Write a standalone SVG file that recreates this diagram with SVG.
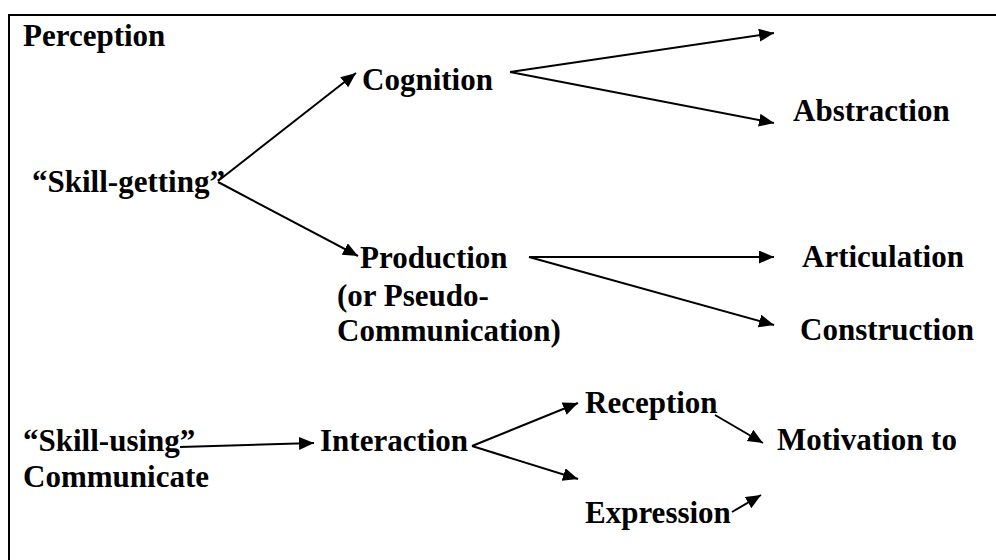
<svg xmlns="http://www.w3.org/2000/svg" width="996" height="560" viewBox="0 0 996 560">
<defs>
<style>
.t{font-weight:bold;font-size:31px;fill:#000}
.c line{stroke:#000;stroke-width:2;fill:none;marker-end:url(#ah)}
</style>
<marker id="ah" markerUnits="userSpaceOnUse" markerWidth="16" markerHeight="14" refX="15" refY="6.5" orient="auto">
<path d="M0,0 L15,6.5 L0,13 z" fill="#000"/>
</marker>
</defs>
<rect width="996" height="560" fill="#fff"/>
<path d="M9,560 V15 H996" fill="none" stroke="#000" stroke-width="2"/>
<g class="t" font-family="Liberation Serif, Times New Roman, DejaVu Serif, serif">
<g id="perception"><text x="23" y="46">Perception</text></g>
<g id="cognition"><text x="362" y="90">Cognition</text></g>
<g id="abstraction"><text x="793" y="121">Abstraction</text></g>
<g id="skill-getting"><text x="32" y="192">“Skill-getting”</text></g>
<g id="production"><text x="360" y="268">Production</text><text x="337" y="306">(or Pseudo-</text><text x="337" y="341">Communication)</text></g>
<g id="articulation"><text x="802" y="267">Articulation</text></g>
<g id="construction"><text x="800" y="340">Construction</text></g>
<g id="skill-using"><text x="23" y="451">“Skill-using”</text><text x="23" y="487">Communicate</text></g>
<g id="interaction"><text x="320" y="451">Interaction</text></g>
<g id="reception"><text x="585" y="413">Reception</text></g>
<g id="expression"><text x="585" y="523">Expression</text></g>
<g id="motivation"><text x="777" y="450">Motivation to</text></g>
</g>
<g class="c" id="connectors">
<line x1="218" y1="181" x2="356" y2="73"/>
<line x1="218" y1="182" x2="358" y2="256"/>
<line x1="510" y1="72" x2="774" y2="33"/>
<line x1="510" y1="72" x2="774" y2="123"/>
<line x1="529" y1="257" x2="774" y2="257"/>
<line x1="529" y1="257" x2="774" y2="325"/>
<line x1="180" y1="447" x2="314" y2="443"/>
<line x1="472" y1="446" x2="578" y2="403"/>
<line x1="472" y1="446" x2="578" y2="479"/>
<line x1="715" y1="415" x2="763" y2="443"/>
<line x1="732" y1="512" x2="761" y2="495"/>
</g>
</svg>
